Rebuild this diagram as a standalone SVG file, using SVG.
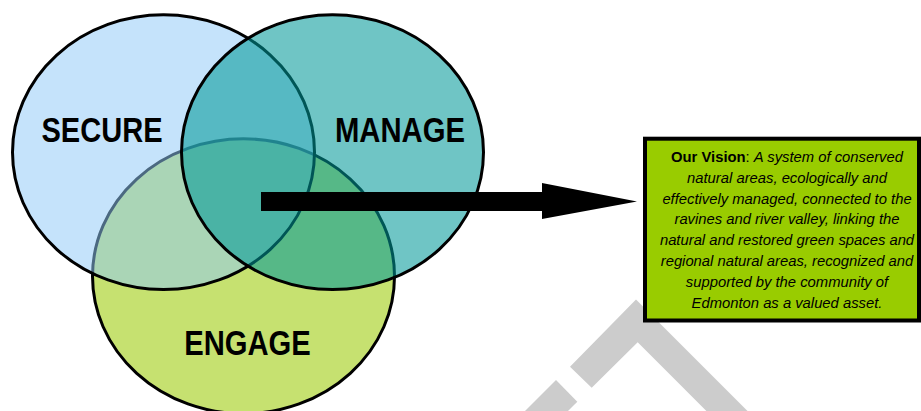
<svg xmlns="http://www.w3.org/2000/svg" width="921" height="411" viewBox="0 0 921 411">
<style>
.lbl{font-family:"Liberation Sans",Arial,sans-serif;font-weight:bold;font-size:34.5px;fill:#000}
.vt{font-family:"Liberation Sans",Arial,sans-serif;font-size:14.8px;font-style:italic;fill:#000;text-anchor:middle}
.ring{stroke:#000;stroke-width:3}
</style>
<rect width="921" height="411" fill="#fff"/>
<g id="watermark" fill="#cccccc">
<polygon points="570,366.7 636,299.5 747.5,411 706.4,411 637.7,342.3 591.7,387.7"/>
<polygon points="556,380 577.3,401.7 568,411 525,411"/>
</g>
<g id="engage">
<ellipse class="ring" cx="243.5" cy="276.2" rx="151" ry="137.4" fill="#c6e170"/>
</g>
<g id="secure">
<ellipse class="ring" cx="163.5" cy="152.2" rx="151" ry="137.4" fill="#8fc9f7" fill-opacity="0.52"/>
</g>
<g id="manage">
<ellipse class="ring" cx="332.5" cy="152.2" rx="151" ry="137.4" fill="#009898" fill-opacity="0.565"/>
</g>
<g id="labels">
<text class="lbl" x="41.5" y="141.5" textLength="121" lengthAdjust="spacingAndGlyphs">SECURE</text>
<text class="lbl" x="335" y="141.5" textLength="130" lengthAdjust="spacingAndGlyphs">MANAGE</text>
<text class="lbl" x="184.3" y="355" textLength="126.4" lengthAdjust="spacingAndGlyphs">ENGAGE</text>
</g>
<g id="connectors">
<path d="M261,192 H542 V183 L637,201.5 L542,219 V211 H261 Z" fill="#000"/>
</g>
<g id="vision">
<rect x="645" y="138.7" width="274" height="181.8" fill="#99cc00" stroke="#000" stroke-width="4"/>
<text class="vt" x="787" y="162"><tspan font-weight="bold" font-style="normal">Our Vision</tspan><tspan font-style="normal">: </tspan>A system of conserved</text>
<text class="vt" x="787" y="182.8">natural areas, ecologically and</text>
<text class="vt" x="787" y="203.6">effectively managed, connected to the</text>
<text class="vt" x="787" y="224.4">ravines and river valley, linking the</text>
<text class="vt" x="787" y="245.2">natural and restored green spaces and</text>
<text class="vt" x="787" y="266">regional natural areas, recognized and</text>
<text class="vt" x="787" y="286.8">supported by the community of</text>
<text class="vt" x="787" y="307.6">Edmonton as a valued asset.</text>
</g>
</svg>
